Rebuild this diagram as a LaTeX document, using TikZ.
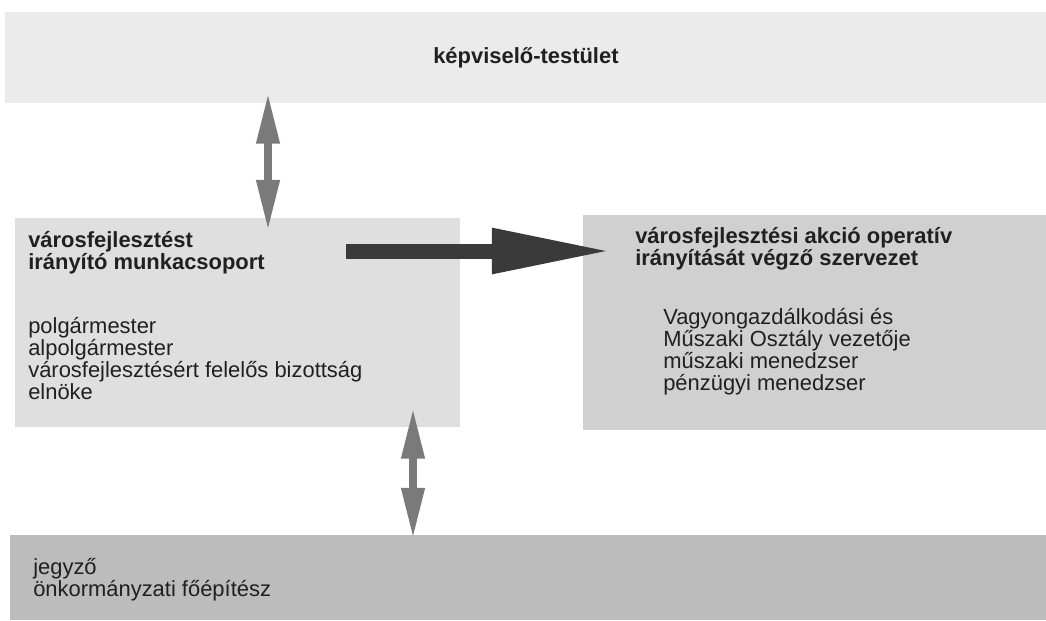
\documentclass[tikz,border=0pt]{standalone}
\usepackage{fontspec}
\setmainfont{Liberation Sans}
\usepackage{tikz}
\usetikzlibrary{arrows.meta, positioning}
\definecolor{mydark}{RGB}{32,32,32}
\definecolor{mygrey}{RGB}{122,122,122}
\definecolor{arrowdark}{RGB}{58,58,58}
\definecolor{bgtop}{RGB}{235,235,235}
\definecolor{bgleft}{RGB}{223,223,223}
\definecolor{bgright}{RGB}{208,208,208}
\definecolor{bgbottom}{RGB}{188,188,188}
\tikzset{
  panel/.style={rectangle, draw=none, inner sep=0pt, anchor=north west,
    text=mydark, font=\fontsize{15.6pt}{15.6pt}\selectfont},
  boxtext/.style={anchor=north west, inner sep=0pt, align=left,
    text=mydark, font=\fontsize{15.6pt}{15.6pt}\selectfont},
  dblarrow/.style={{Triangle[length=1.25cm, width=0.55cm]}-{Triangle[length=1.25cm, width=0.55cm]},
    line width=0.18cm, color=mygrey},
  bigarrow/.style={-{Triangle[length=3cm, width=1.05cm]}, line width=0.375cm, color=arrowdark}
}
\begin{document}
\begin{tikzpicture}[x=0.025cm, y=-0.025cm]
  \useasboundingbox (0,0) rectangle (1046,620);
  % Panels
  \node[panel, fill=bgtop, minimum width=26.025cm, minimum height=2.275cm]
    (testulet) at (5,12) {\bfseries képviselő-testület\hspace{0.35cm}};
  \node[panel, fill=bgleft, minimum width=11.125cm, minimum height=5.225cm]
    (munka) at (15,218) {};
  \node[panel, fill=bgright, minimum width=11.575cm, minimum height=5.375cm]
    (operativ) at (583,215) {};
  \node[panel, fill=bgbottom, minimum width=25.9cm, minimum height=2.125cm]
    (jegyzo) at (10,535) {};
  % Texts
  \node[boxtext] (munkatxt) at (28,231) {\bfseries városfejlesztést\\
    \bfseries irányító munkacsoport\\[1.05cm]
    polgármester\\
    alpolgármester\\
    városfejlesztésért felelős bizottság\\
    elnöke};
  \node[boxtext] (operhead) at (635,227) {\bfseries városfejlesztési akció operatív\\
    \bfseries irányítását végző szervezet};
  \node[boxtext] (opertxt) at (663,308) {Vagyongazdálkodási és\\
    Műszaki Osztály vezetője\\
    műszaki menedzser\\
    pénzügyi menedzser};
  \node[boxtext] (jegyzotxt) at (33,558) {jegyző\\
    önkormányzati főépítész};
  % Arrows
  \coordinate (ax) at (268,0);
  \coordinate (bx) at (413,0);
  \coordinate (cy) at (0,251);
  \draw[dblarrow, shorten <=-0.25cm, shorten >=-0.3cm] (testulet.south -| ax) -- (munka.north -| ax);
  \draw[dblarrow, shorten <=-0.475cm, shorten >=-0.075cm] (munka.south -| bx) -- (jegyzo.north -| bx);
  \draw[bigarrow, shorten <=-2.875cm, shorten >=-0.725cm] (munka.east |- cy) -- (operativ.west |- cy);
\end{tikzpicture}
\end{document}
